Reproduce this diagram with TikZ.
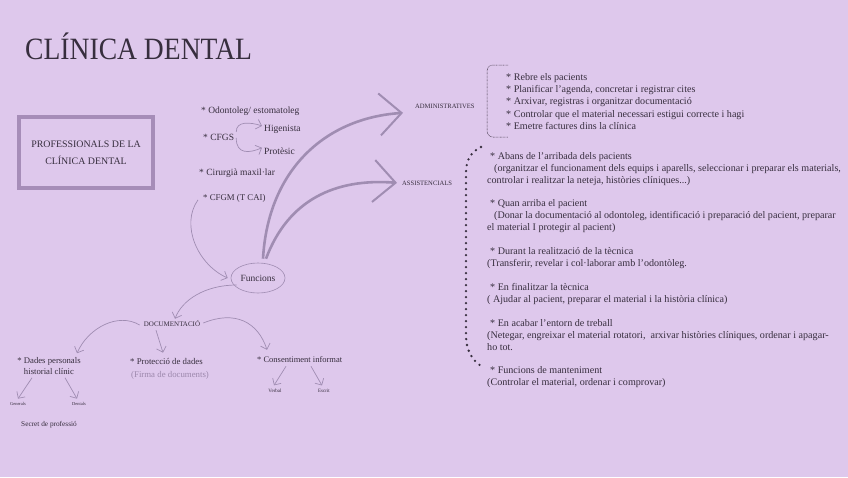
\documentclass[tikz,border=0pt]{standalone}
\usepackage{fontspec}
\setmainfont{Liberation Serif}
\usetikzlibrary{arrows.meta,shapes.geometric,calc}
\definecolor{bg}{HTML}{DEC8EC}
\definecolor{ink}{HTML}{372E3E}
\definecolor{arr}{HTML}{A08DB2}
\definecolor{boxc}{HTML}{A68DB8}
\definecolor{soft}{HTML}{9C88AC}
\begin{document}
\begin{tikzpicture}[x=1pt,y=-1pt,
  txt/.style={inner sep=0pt, text=ink, font=\fontsize{10.1}{12}\selectfont, anchor=base west},
  ptxt/.style={inner sep=0pt, text=ink, font=\fontsize{9.5}{12}\selectfont, anchor=base west},
  caps/.style={inner sep=0pt, text=ink, font=\fontsize{6.6}{8}\selectfont, anchor=base west},
  tinytxt/.style={inner sep=0pt, text=ink, font=\fontsize{4.5}{5}\selectfont, anchor=base},
  thinarrow/.style={draw=arr, line width=0.7pt, -{Straight Barb[length=5pt,width=10pt]}},
  bigarrow/.style={draw=arr, line width=2.6pt, -{Straight Barb[length=22pt,width=42pt,line width=2pt]}},
]
\fill[bg] (0,0) rectangle (848,477);
\useasboundingbox (0,0) rectangle (848,477);

% title
\node[inner sep=0pt, anchor=base west, text=ink] (title) at (25,59)
  {\fontsize{31}{34}\selectfont\scalebox{0.89}[1]{CLÍNICA DENTAL}};

% professionals box
\node[draw=boxc, line width=4pt, minimum width=134pt, minimum height=71pt, inner sep=0pt,
      text=ink, align=center, font=\fontsize{9.9}{17}\selectfont] (prof) at (86,152.5)
  {PROFESSIONALS DE LA\\CLÍNICA DENTAL};

% professions
\node[ptxt] (p1) at (201,113) {* Odontoleg/ estomatoleg};
\node[ptxt] (p2) at (203,140) {* CFGS};
\node[ptxt] (p3) at (264,131) {Higenista};
\node[ptxt] (p4) at (264,154) {Protèsic};
\node[ptxt] (p5) at (199,175) {* Cirurgià maxil·lar};
\node[ptxt, font=\fontsize{8.8}{11}\selectfont] (p6) at (203,200) {* CFGM (T CAI)};

\draw[thinarrow] ($(p2.east)+(2,-5)$) .. controls (236,121) and (250,122) .. ($(p3.west)+(-2,-3)$);
\draw[thinarrow] ($(p2.east)+(2,1)$) .. controls (236,155) and (250,153) .. ($(p4.west)+(-2,-3)$);

% Funcions
\node[draw=arr, ellipse, line width=0.6pt, minimum width=54pt, minimum height=30pt, inner sep=0pt,
      text=ink, font=\fontsize{9.5}{11}\selectfont] (fun) at (258,278) {Funcions};

\draw[thinarrow] ($(p6.west)+(-5,2)$) .. controls (180,225) and (198,265) .. ($(fun.west)+(-3,0)$);

% big arrows
\node[caps] (adm) at (415,108) {ADMINISTRATIVES};
\node[caps] (asi) at (402,185) {ASSISTENCIALS};
\draw[bigarrow] ($(fun.north)+(5,-4)$) .. controls (268,170) and (325,118) .. ($(adm.west)+(-12,7)$);
\draw[bigarrow] ($(fun.north)+(8,-4)$) .. controls (288,200) and (335,178) .. ($(asi.west)+(-5,0)$);

% administratives list
\draw[ink, line width=0.5pt, dash pattern=on 0.7pt off 0.7pt, rounded corners=6pt]
  (508,65) -- (487,65) -- (487,137) -- (508,137);
\node[txt] (a1) at (506,80) {* Rebre els pacients};
\node[txt] (a2) at (506,92) {* Planificar l'agenda, concretar i registrar cites};
\node[txt] (a3) at (506,104.5) {* Arxivar, registras i organitzar documentació};
\node[txt] (a4) at (506,117) {* Controlar que el material necessari estigui correcte i hagi};
\node[txt] (a5) at (506,129) {* Emetre factures dins la clínica};

% assistencials
\draw[ink, line width=2.6pt, line cap=round, dash pattern=on 0pt off 6pt]
  (481,147) .. controls (471,152) and (466,160) .. (466,172) -- (466,335)
  .. controls (466,350) and (472,360) .. (481,366);
\node[txt] (s1) at (490,159) {* Abans de l'arribada dels pacients};
\node[txt] (s2) at (494,171) {(organitzar el funcionament dels equips i aparells, seleccionar i preparar els materials,};
\node[txt] (s3) at (487,183) {controlar i realitzar la neteja, històries clíniques...)};
\node[txt] (s4) at (490,206) {* Quan arriba el pacient};
\node[txt] (s5) at (494,218) {(Donar la documentació al odontoleg, identificació i preparació del pacient, preparar};
\node[txt] (s6) at (487,230) {el material I protegir al pacient)};
\node[txt] (s7) at (490,254) {* Durant la realització de la tècnica};
\node[txt] (s8) at (487,266) {(Transferir, revelar i col·laborar amb l'odontòleg.};
\node[txt] (s9) at (490,290) {* En finalitzar la tècnica};
\node[txt] (s10) at (487,302) {( Ajudar al pacient, preparar el material i la història clínica)};
\node[txt] (s11) at (490,326) {* En acabar l'entorn de treball};
\node[txt] (s12) at (487,338) {(Netegar, engreixar el material rotatori,\ \ arxivar històries clíniques, ordenar i apagar-};
\node[txt] (s13) at (487,350) {ho tot.};
\node[txt] (s14) at (490,373) {* Funcions de manteniment};
\node[txt] (s15) at (487,385) {(Controlar el material, ordenar i comprovar)};

% documentacio
\node[inner sep=0pt, text=ink, font=\fontsize{7}{8}\selectfont] (doc) at (172,324) {DOCUMENTACIÓ};
\draw[thinarrow] ($(fun.west)+(6,7)$) .. controls (205,285) and (182,300) .. ($(doc.north)+(3,-2)$);

\node[inner sep=0pt, text=ink, align=center, font=\fontsize{8.7}{11}\selectfont] (dp) at (49,366)
  {* Dades personals\\historial clínic};
\node[ptxt, font=\fontsize{8.8}{11}\selectfont] (pd) at (130,364) {* Protecció de dades};
\node[ptxt, font=\fontsize{8.8}{11}\selectfont, text=soft] (fd) at (131,377) {(Firma de documents)};
\node[ptxt, font=\fontsize{8.5}{11}\selectfont] (ci) at (257,362) {* Consentiment informat};

\draw[thinarrow] ($(doc.west)+(-4,1)$) .. controls (118,312) and (88,328) .. ($(dp.north)+(28,-4)$);
\draw[thinarrow] ($(doc.south)+(-16,3)$) -- ($(pd.north west)+(33,-5)$);
\draw[thinarrow] ($(doc.east)+(3,-1)$) .. controls (235,310) and (258,322) .. ($(ci.north west)+(10,-6)$);

\node[tinytxt] (gen) at (18,405) {Generals};
\node[tinytxt] (den) at (79,405) {Dentals};
\draw[thinarrow] ($(dp.south)+(-17,3)$) -- ($(gen.north)+(0,-3)$);
\draw[thinarrow] ($(dp.south)+(16,3)$) -- ($(den.north)+(-2,-3)$);

\node[inner sep=0pt, text=ink, font=\fontsize{7.3}{8}\selectfont] (sec) at (49,425) {Secret de professió};

\node[tinytxt, font=\fontsize{5}{6}\selectfont] (ver) at (275,392) {Verbal};
\node[tinytxt, font=\fontsize{5}{6}\selectfont] (esc) at (324,392) {Escrit};
\draw[thinarrow] ($(ci.south west)+(29,4)$) -- ($(ver.north)+(-1,-3)$);
\draw[thinarrow] ($(ci.south west)+(54,4)$) -- ($(esc.north)+(-2,-3)$);
\end{tikzpicture}
\end{document}
